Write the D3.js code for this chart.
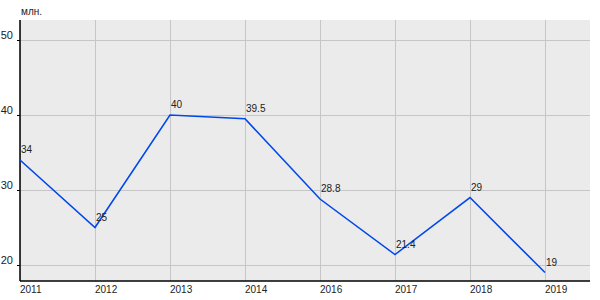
<!DOCTYPE html>
<html>
<head>
<meta charset="utf-8">
<script src="https://cdn.jsdelivr.net/npm/d3@7"></script>
<style>
  body { margin: 0; background: #fff; }
  svg { display: block; font-family: "Liberation Sans", Arial, sans-serif; }
</style>
</head>
<body>
<div id="root"></div>
<script>
// DATA
let years = ['2011', '2012', '2013', '2014', '2016', '2017', '2018', '2019'];
let values = [34, 25, 40, 39.5, 28.8, 21.4, 29, 19];
let labels = ['34', '25', '40', '39.5', '28.8', '21.4', '29', '19'];
let yTicks = [20, 30, 40, 50];
let unitLabel = 'млн.';

// DIMENSIONS
let width = 600, height = 300;
let plotLeft = 20, plotRight = 590, plotTop = 20, plotBottom = 281;

let svg = d3.select('#root').append('svg')
  .attr('width', width)
  .attr('height', height);

let xScale = d3.scalePoint()
  .domain(years)
  .range([plotLeft, 545]);

let yScale = d3.scaleLinear()
  .domain([17.87, 52.67])
  .range([plotBottom, plotTop]);

// plot background
svg.append('rect')
  .attr('x', plotLeft).attr('y', plotTop)
  .attr('width', plotRight - plotLeft).attr('height', plotBottom - plotTop)
  .attr('fill', '#ebebeb');

// grid
svg.selectAll('.vgrid').data(years).enter().append('line')
  .attr('x1', d => xScale(d)).attr('x2', d => xScale(d))
  .attr('y1', plotTop).attr('y2', plotBottom)
  .attr('stroke', '#c6c6c6').attr('stroke-width', 1)
  .attr('shape-rendering', 'crispEdges');

svg.selectAll('.hgrid').data(yTicks).enter().append('line')
  .attr('x1', plotLeft).attr('x2', plotRight)
  .attr('y1', d => yScale(d)).attr('y2', d => yScale(d))
  .attr('stroke', '#c6c6c6').attr('stroke-width', 1)
  .attr('shape-rendering', 'crispEdges');

// y axis
let yAxis = svg.append('g')
  .attr('transform', `translate(${plotLeft},0)`)
  .call(d3.axisLeft(yScale).tickValues(yTicks).tickSize(3).tickPadding(4));
yAxis.select('.domain').remove();
yAxis.selectAll('line').attr('stroke', '#000').attr('shape-rendering', 'crispEdges');
yAxis.selectAll('text').style('font-size', '11px').style('fill', '#222')
  .attr('dy', '-0.15em');
svg.append('line')
  .attr('x1', plotLeft).attr('x2', plotLeft).attr('y1', plotTop).attr('y2', plotBottom)
  .attr('stroke', '#000').attr('stroke-width', 1.5);

// x axis
svg.append('line')
  .attr('x1', plotLeft).attr('x2', plotRight).attr('y1', plotBottom).attr('y2', plotBottom)
  .attr('stroke', '#000').attr('stroke-width', 1.5);
svg.selectAll('.xlab').data(years).enter().append('text')
  .attr('x', d => xScale(d))
  .attr('y', 293)
  .style('font-size', '10px')
  .style('fill', '#222')
  .text(d => d);

// unit label
svg.append('text')
  .attr('x', 21).attr('y', 15)
  .style('font-size', '10px').style('fill', '#222')
  .text(unitLabel);

// line
let line = d3.line()
  .x((d, i) => xScale(years[i]))
  .y(d => yScale(d));

svg.append('path')
  .datum(values)
  .attr('d', line)
  .attr('fill', 'none')
  .attr('stroke', '#0048ec')
  .attr('stroke-width', 1.6);

// value labels
svg.selectAll('.vlab').data(values).enter().append('text')
  .attr('x', (d, i) => xScale(years[i]) + 1)
  .attr('y', d => yScale(d) - 7)
  .style('font-size', '10px')
  .style('fill', '#222')
  .text((d, i) => labels[i]);
</script>
</body>
</html>
